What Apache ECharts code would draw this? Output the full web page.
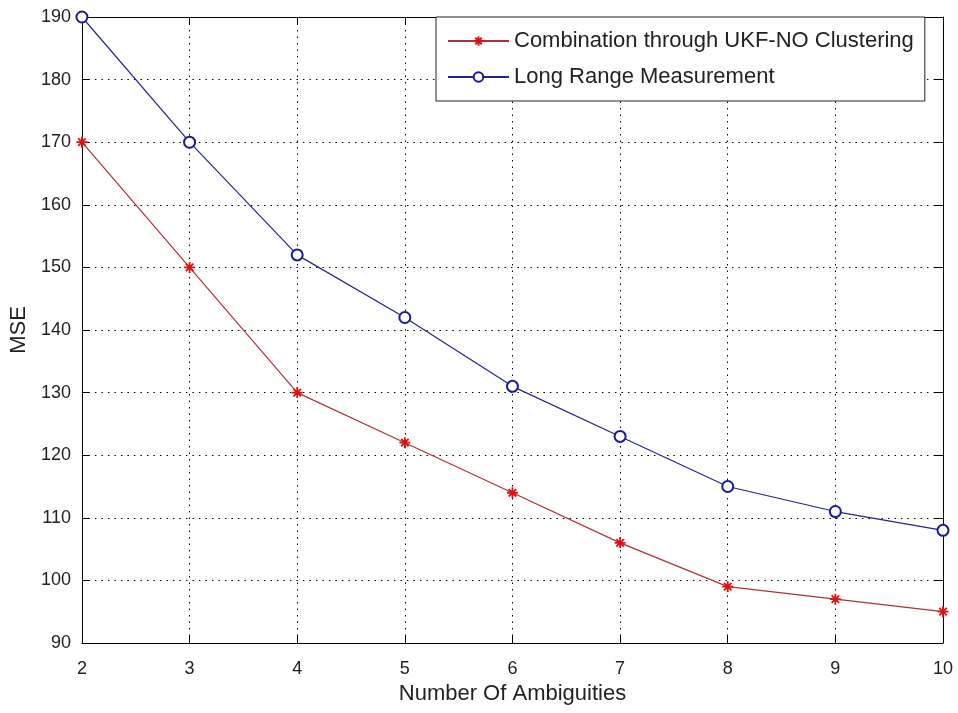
<!DOCTYPE html>
<html>
<head>
<meta charset="utf-8">
<script src="https://cdn.jsdelivr.net/npm/echarts@6/dist/echarts.min.js"></script>
<style>
  html, body { margin: 0; padding: 0; background: #fff; }
  #chart { width: 958px; height: 713px; }
</style>
</head>
<body>
<div id="chart"></div>
<script>
  // values
  const ambiguities = [2, 3, 4, 5, 6, 7, 8, 9, 10];
  const ukfClustering = [170, 150, 130, 122, 114, 106, 99, 97, 95];
  const longRange = [190, 170, 152, 142, 131, 123, 115, 111, 108];
  const seriesNames = ["Combination through UKF-NO Clustering", "Long Range Measurement"];

  const FONT = "Liberation Sans";
  const asterisk = "path://M5,0 L5,10 M0,5 L10,5 M1.6,1.6 L8.4,8.4 M1.6,8.4 L8.4,1.6";

  const pairs = (ys) => ambiguities.map((x, i) => [x, ys[i]]);

  const chart = echarts.init(document.getElementById("chart"));

  const dotted = { color: "#000", width: 1, type: [1.5, 5] };
  const tickIn = { show: true, inside: true, length: 8, lineStyle: { color: "#000" } };

  chart.setOption({
    backgroundColor: "#fff",
    animation: false,
    textStyle: { fontFamily: FONT },
    grid: { left: 79, right: 15, top: 17, bottom: 70 },
    legend: {
      orient: "vertical",
      left: 436,
      top: 17,
      padding: [13, 11, 13, 11],
      itemGap: 14,
      itemWidth: 61,
      itemHeight: 12,
      backgroundColor: "#fff",
      borderColor: "#222",
      borderWidth: 1,
      borderRadius: 0,
      textStyle: { fontFamily: FONT, fontSize: 22, color: "#222" },
      data: seriesNames,
      z: 10
    },
    xAxis: [
      {
        type: "value",
        min: 2,
        max: 10,
        interval: 1,
        name: "Number Of Ambiguities",
        nameLocation: "middle",
        nameGap: 39,
        nameTextStyle: { fontFamily: FONT, fontSize: 22, color: "#222" },
        axisLine: { show: true, onZero: false, lineStyle: { color: "#000", width: 1 } },
        axisTick: tickIn,
        axisLabel: { fontFamily: FONT, fontSize: 18, color: "#222", margin: 17 },
        splitLine: { show: true, lineStyle: dotted }
      },
      {
        type: "value",
        position: "top",
        min: 2,
        max: 10,
        interval: 1,
        axisLine: { show: true, onZero: false, lineStyle: { color: "#000", width: 1 } },
        axisTick: tickIn,
        axisLabel: { show: false },
        splitLine: { show: false }
      }
    ],
    yAxis: [
      {
        type: "value",
        min: 90,
        max: 190,
        interval: 10,
        name: "MSE",
        nameLocation: "middle",
        nameGap: 37,
        nameTextStyle: { fontFamily: FONT, fontSize: 22, color: "#222" },
        axisLine: { show: true, onZero: false, lineStyle: { color: "#000", width: 1 } },
        axisTick: tickIn,
        axisLabel: { fontFamily: FONT, fontSize: 18, color: "#222", margin: 11 },
        splitLine: { show: true, lineStyle: dotted }
      },
      {
        type: "value",
        position: "right",
        min: 90,
        max: 190,
        interval: 10,
        axisLine: { show: true, onZero: false, lineStyle: { color: "#000", width: 1 } },
        axisTick: tickIn,
        axisLabel: { show: false },
        splitLine: { show: false }
      }
    ],
    series: [
      {
        name: seriesNames[0],
        type: "line",
        data: pairs(ukfClustering),
        symbol: asterisk,
        symbolSize: 11,
        showAllSymbol: true,
        lineStyle: { color: "#b0303a", width: 1.2 },
        itemStyle: { color: "#e01010", borderColor: "#e01010", borderWidth: 1.8 },
        z: 3
      },
      {
        name: seriesNames[1],
        type: "line",
        data: pairs(longRange),
        symbol: "emptyCircle",
        symbolSize: 11,
        showAllSymbol: true,
        lineStyle: { color: "#25258a", width: 1.2 },
        itemStyle: { color: "#1a1a99", borderColor: "#1a1a99", borderWidth: 1.5 },
        z: 3
      }
    ]
  });
</script>
</body>
</html>
